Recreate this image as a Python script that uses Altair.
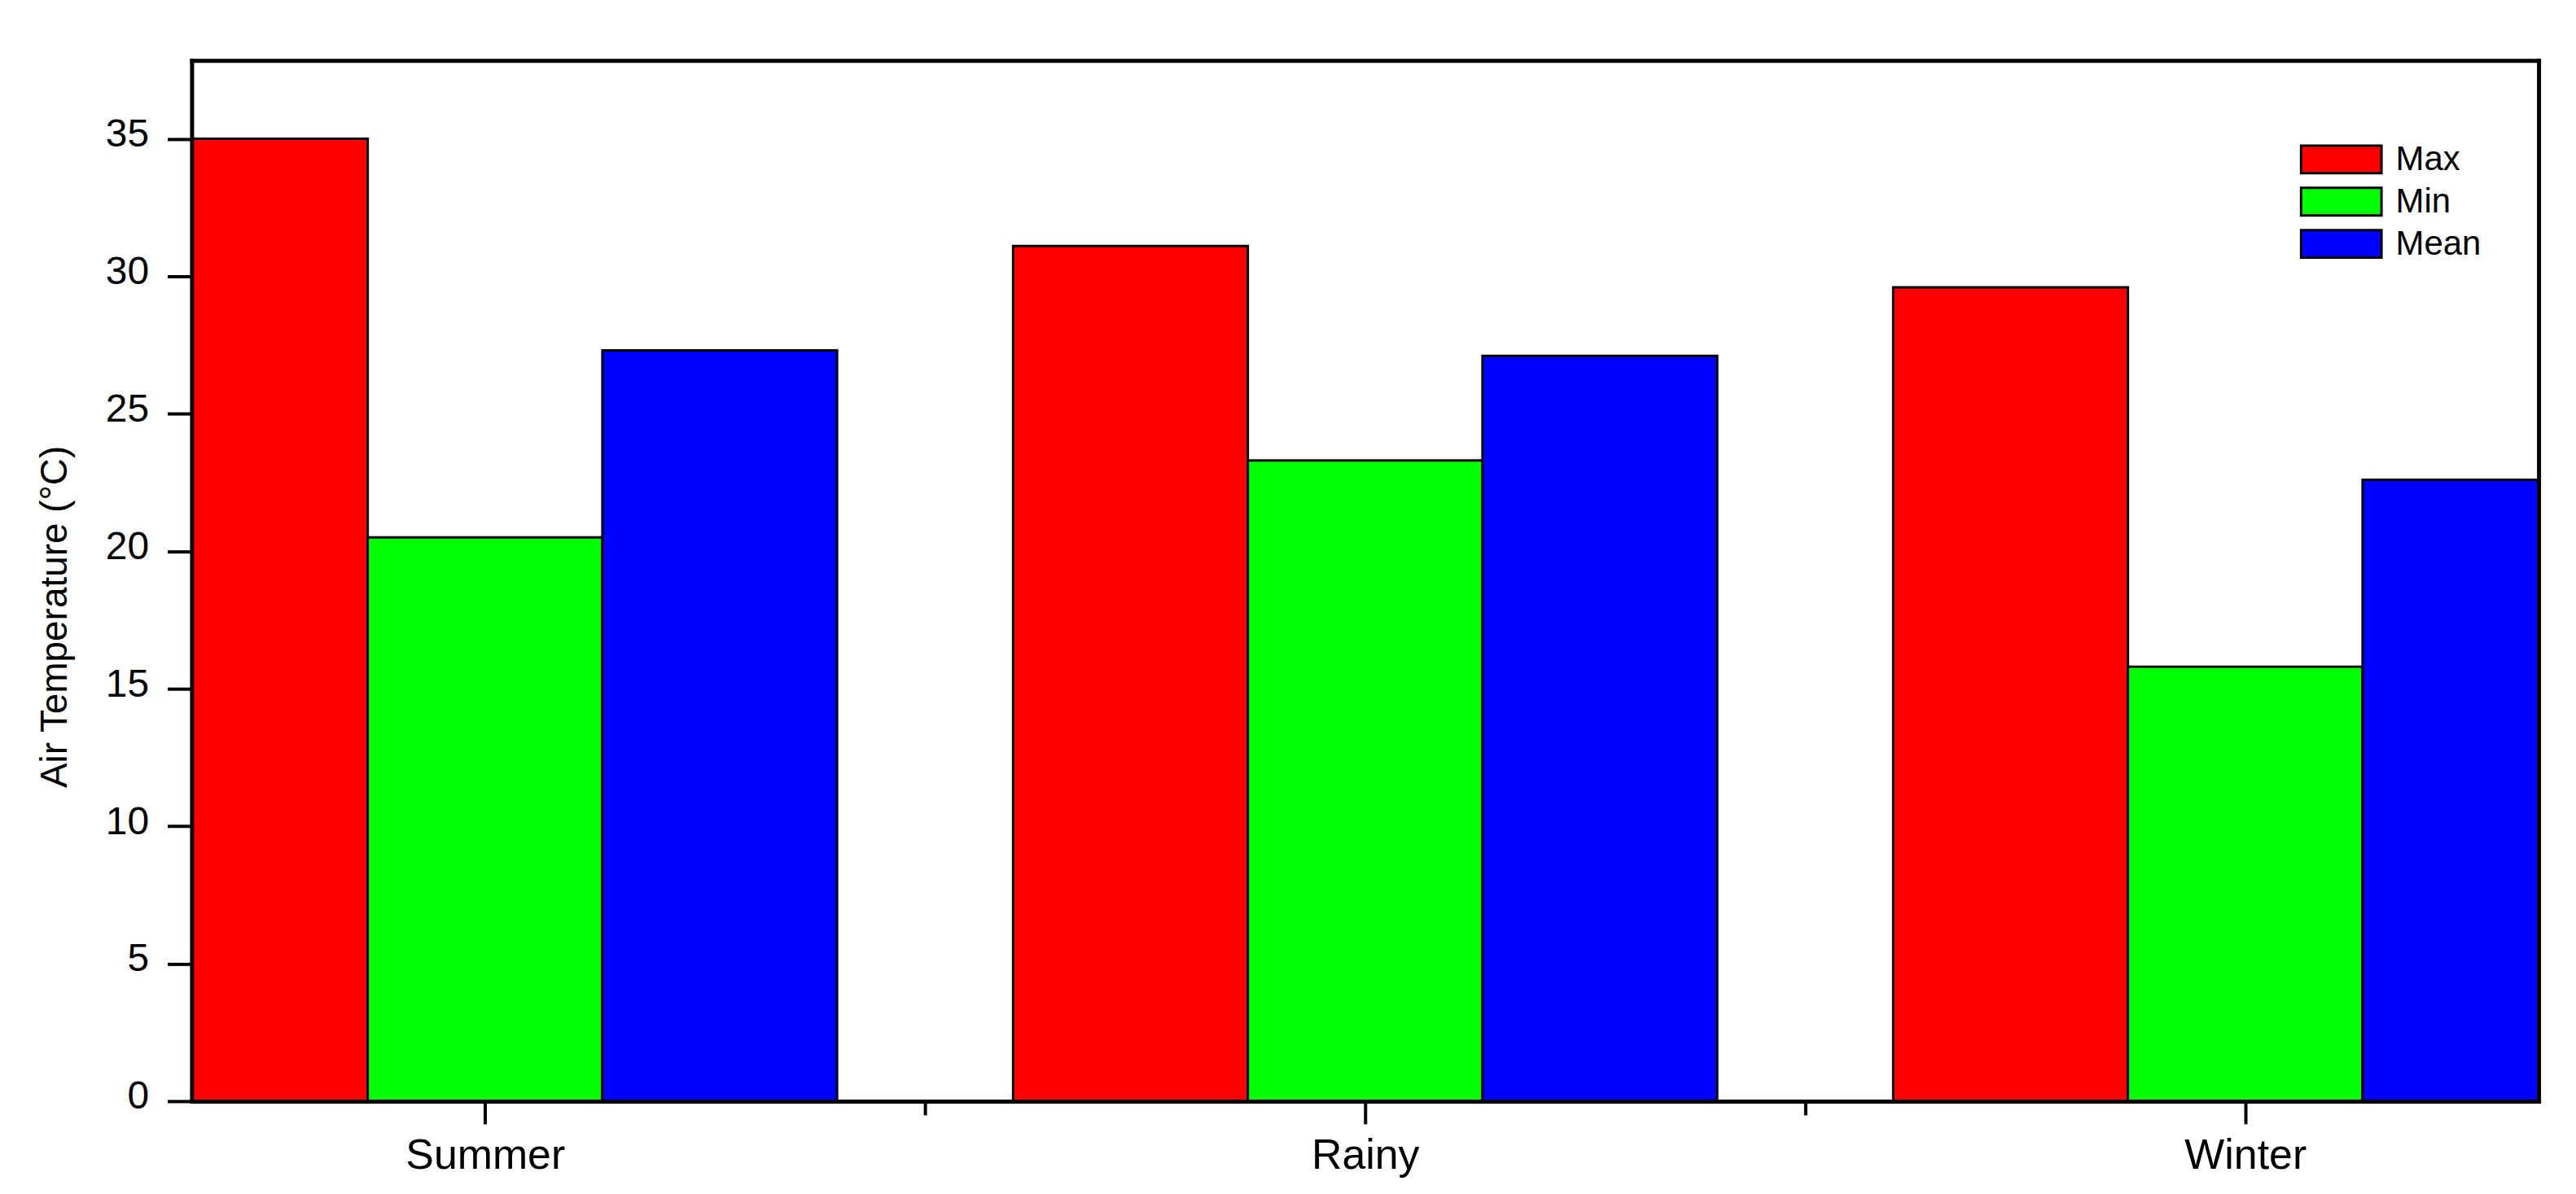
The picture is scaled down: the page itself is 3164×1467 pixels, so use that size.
import json
import altair as alt
import pandas as pd

# ---------------- data ----------------
seasons = ["Summer", "Rainy", "Winter"]
series = ["Max", "Min", "Mean"]
max_vals = [35.0, 31.1, 29.6]
min_vals = [20.5, 23.3, 15.8]
mean_vals = [27.3, 27.1, 22.6]
colors = ["#FF0000", "#00FF00", "#0000FF"]
y_ticks = [0, 5, 10, 15, 20, 25, 30, 35]
x_major = [1, 2, 3]
x_minor = [1.5, 2.5]

group_width = 0.8
bar_w = group_width / len(series)

rows = []
for i, s in enumerate(seasons):
    center = i + 1
    for j, (name, vals) in enumerate(zip(series, [max_vals, min_vals, mean_vals])):
        left = center - group_width / 2 + j * bar_w
        rows.append({"season": s, "series": name, "x0": left, "x1": left + bar_w,
                     "value": vals[i]})
df = pd.DataFrame(rows)

# ---------------- layout ----------------
W, H = 2890, 1282
xdom = [2 / 3, 10 / 3]
ydom = [0, 37.85]
FONT = "Liberation Sans"

xscale = alt.Scale(domain=xdom, nice=False, zero=False)
yscale = alt.Scale(domain=ydom, nice=False, zero=True)

label_expr = "%s[round(datum.value) - 1]" % json.dumps(seasons)

bars = alt.Chart(df).mark_bar(clip=True, stroke="black", strokeWidth=3).encode(
    x=alt.X("x0:Q", scale=xscale,
            axis=alt.Axis(orient="bottom", values=x_major, labelExpr=label_expr,
                          tickSize=28, tickWidth=4, domainWidth=5, domainCap="square",
                          labelFontSize=52, labelPadding=14, labelLimit=1000,
                          grid=False, title=None,
                          zindex=1, labelFont=FONT, labelColor="black",
                          tickColor="black", domainColor="black")),
    x2="x1:Q",
    y=alt.Y("value:Q", scale=yscale, stack=None,
            axis=alt.Axis(orient="left", values=y_ticks, tickSize=30, tickWidth=4,
                          domainWidth=5, domainCap="square", labelFontSize=48,
                          labelPadding=23, labelOffset=-5, grid=False,
                          title="Air Temperature (°C)", titleFontSize=46,
                          titleFontWeight="normal", titleFont=FONT, titleColor="black",
                          titleX=-154, titleY=685, titleBaseline="alphabetic",
                          titleAngle=270, titleAlign="center", titleLimit=2000,
                          zindex=1, labelFont=FONT, labelColor="black",
                          tickColor="black", domainColor="black")),
    y2=alt.datum(0),
    color=alt.Color("series:N", scale=alt.Scale(domain=series, range=colors),
                    legend=alt.Legend(title=None, orient="none", legendX=2626, legendY=101,
                                      symbolType="M-2.676,-0.919L2.676,-0.919L2.676,0.919L-2.676,0.919Z",
                                      symbolSize=1369, symbolStrokeColor="black",
                                      symbolStrokeWidth=3, symbolOpacity=1,
                                      labelFontSize=42, labelFont=FONT, labelColor="black",
                                      labelOffset=46, rowPadding=4, padding=0,
                                      labelLimit=1000)),
)

minor = alt.Chart(df).mark_bar(opacity=0).encode(
    x=alt.X("x0:Q", scale=xscale,
            axis=alt.Axis(orient="bottom", values=x_minor, tickSize=17, tickWidth=4,
                          labels=False, domain=False, grid=False, title=None, zindex=1,
                          tickColor="black")),
    x2="x1:Q",
    y=alt.Y("value:Q", scale=yscale, stack=None, axis=None),
    y2=alt.datum(0),
)

frame = alt.Chart(df).mark_bar(opacity=0).encode(
    x=alt.X("x0:Q", scale=xscale,
            axis=alt.Axis(orient="top", ticks=False, labels=False, domainWidth=5,
                          domainCap="square", domainColor="black", grid=False,
                          title=None, zindex=1)),
    x2="x1:Q",
    y=alt.Y("value:Q", scale=yscale, stack=None,
            axis=alt.Axis(orient="right", ticks=False, labels=False, domainWidth=5,
                          domainCap="square", domainColor="black", grid=False,
                          title=None, zindex=1)),
    y2=alt.datum(0),
)

chart = (
    alt.layer(bars, minor, frame)
    .resolve_axis(x="independent", y="independent")
    .properties(width=W, height=H, autosize=alt.AutoSizeParams(type="none"),
                padding={"left": 228, "top": 64.5, "right": 38, "bottom": 100})
    .configure_view(stroke=None)
    .configure(background="white")
)

chart.save("out.html", embed_options={"renderer": "svg", "actions": False})
